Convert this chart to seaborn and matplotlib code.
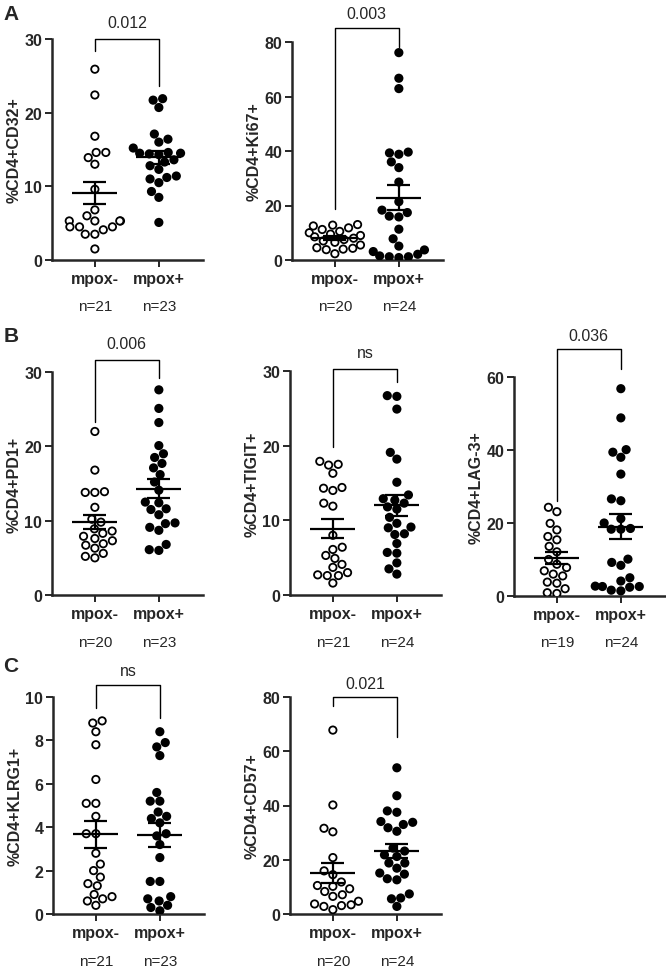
import numpy as np
import pandas as pd
import matplotlib.pyplot as plt
import seaborn as sns
from matplotlib.transforms import blended_transform_factory

groups = ["mpox-", "mpox+"]

# %CD4+ values
cd32_neg = [25.9, 22.4, 16.8, 14.6, 14.6, 13.9, 13.0, 9.6, 6.8, 6.0, 5.3, 5.3, 5.3, 5.3,
            4.5, 4.5, 4.5, 4.1, 3.5, 3.5, 1.5]
cd32_pos = [21.9, 21.7, 20.7, 17.1, 16.4, 16.0, 15.2, 14.6, 14.5, 14.5, 14.4, 14.3, 13.6,
            13.3, 12.8, 12.3, 11.4, 11.2, 11.0, 10.5, 9.3, 8.5, 5.1]
ki67_neg = [13.0, 12.8, 12.5, 11.8, 11.2, 10.5, 10.0, 9.5, 9.0, 8.5, 8.0, 7.5, 7.0, 6.5,
            5.5, 4.5, 4.3, 4.0, 3.8, 2.3]
ki67_pos = [76.1, 66.7, 62.9, 39.6, 39.3, 38.8, 36.0, 33.9, 28.6, 21.4, 18.3, 17.4, 16.1,
            15.8, 11.3, 7.8, 5.1, 3.7, 3.1, 2.1, 1.2, 1.2, 0.9, 1.5]
pd1_neg = [22.0, 16.8, 13.9, 13.8, 13.8, 11.8, 10.2, 9.8, 8.9, 8.6, 8.3, 7.9, 7.6, 7.3,
           6.9, 6.7, 6.3, 5.6, 5.2, 5.0]
pd1_pos = [27.6, 25.1, 23.2, 20.1, 19.0, 18.5, 17.7, 17.1, 16.2, 15.2, 14.1, 12.5, 12.4,
           11.6, 11.5, 10.8, 9.7, 9.6, 9.1, 8.7, 6.8, 6.1, 6.0]
tigit_neg = [17.9, 17.5, 17.4, 16.3, 14.4, 14.3, 14.0, 12.3, 11.9, 8.0, 6.4, 6.1, 5.3, 4.9,
             4.1, 3.7, 3.0, 2.7, 2.6, 2.6, 1.6]
tigit_pos = [26.7, 26.6, 24.9, 19.1, 18.2, 15.1, 13.4, 12.9, 12.7, 12.3, 11.8, 11.5, 10.4,
             9.6, 9.1, 9.0, 8.2, 8.1, 6.9, 5.7, 5.6, 4.3, 3.5, 2.8]
lag3_neg = [24.3, 23.1, 19.9, 18.1, 16.3, 15.4, 13.6, 12.1, 10.0, 8.7, 7.8, 6.9, 6.0, 5.5,
            3.8, 3.5, 2.0, 0.7, 0.9]
lag3_pos = [56.8, 48.8, 40.1, 39.4, 38.0, 33.4, 26.6, 26.1, 21.2, 20.0, 18.5, 18.3, 18.3,
            10.1, 9.2, 8.4, 5.0, 4.1, 2.7, 2.6, 2.6, 2.4, 1.6, 1.4]
klrg1_neg = [8.9, 8.8, 8.4, 7.8, 6.2, 5.1, 5.1, 4.5, 3.7, 3.7, 2.8, 2.3, 2.0, 1.7, 1.4, 1.3,
             0.9, 0.8, 0.7, 0.6, 0.4]
klrg1_pos = [8.4, 7.9, 7.7, 7.3, 5.6, 5.2, 5.2, 4.7, 4.5, 4.4, 4.2, 3.7, 3.6, 3.2, 2.6, 1.5,
             1.5, 0.8, 0.7, 0.6, 0.4, 0.3, 0.15]
cd57_neg = [67.8, 40.2, 31.6, 30.3, 20.8, 15.9, 14.5, 11.8, 10.5, 10.2, 9.3, 8.3, 7.1, 6.5,
            4.7, 3.7, 3.4, 3.1, 2.8, 1.6]
cd57_pos = [53.9, 43.6, 38.0, 37.5, 34.1, 33.8, 33.0, 31.8, 30.5, 24.3, 23.2, 21.8, 21.2,
            18.8, 18.8, 16.9, 15.1, 14.7, 13.0, 12.6, 7.4, 5.9, 5.6, 2.8]

p_values = ["0.012", "0.003", "0.006", "ns", "0.036", "ns", "0.021"]
y_labels = ["%CD4+CD32+", "%CD4+Ki67+", "%CD4+PD1+", "%CD4+TIGIT+", "%CD4+LAG-3+",
            "%CD4+KLRG1+", "%CD4+CD57+"]

sns.set_style("ticks")
plt.rcParams["font.family"] = ["Liberation Sans", "DejaVu Sans"]

W, H = 666, 970
fig = plt.figure(figsize=(W / 100, H / 100), dpi=100)


def panel(x0, y_top, y_bot, neg, pos, ylabel, yticks, pval, bracket, n_y):
    # x0 = pixel of the mpox- tick; axes spans 43 px left of it to 108 px right
    left = x0 - 43
    ax = fig.add_axes([left / W, 1 - y_bot / H, 151 / W, (y_bot - y_top) / H])
    df = pd.DataFrame({"group": ["mpox-"] * len(neg) + ["mpox+"] * len(pos),
                       "val": neg + pos})
    sns.swarmplot(data=df, x="group", y="val", hue="group", order=groups,
                  palette={"mpox-": "white", "mpox+": "black"}, edgecolor="black",
                  linewidth=1.3, size=5.3, legend=False, ax=ax, zorder=3)
    for i, vals in enumerate([neg, pos]):
        v = np.array(vals)
        m = v.mean()
        se = v.std(ddof=1) / np.sqrt(len(v))
        ax.hlines(m, i - 0.35, i + 0.35, color="black", lw=1.6, zorder=5)
        ax.hlines([m - se, m + se], i - 0.18, i + 0.18, color="black", lw=1.6, zorder=5)
        ax.vlines(i, m - se, m + se, color="black", lw=1.6, zorder=5)
    ax.set_xlim(-0.67, 1.69)
    ax.set_ylim(0, yticks[-1])
    ax.set_yticks(yticks)
    ax.set_xlabel("")
    ax.set_ylabel(ylabel, fontsize=11.5, fontweight="bold", labelpad=2)
    ax.tick_params(length=5, width=1.4, labelsize=11.5, pad=2)
    ax.tick_params(axis="x", pad=3)
    for lab in ax.get_xticklabels() + ax.get_yticklabels():
        lab.set_fontweight("bold")
    for s in ["left", "bottom"]:
        ax.spines[s].set_linewidth(1.8)
    sns.despine(ax=ax)
    l_end, top, r_end, txt_y = bracket
    ax.plot([0, 0, 1, 1], [l_end, top, top, r_end], color="black", lw=1,
            clip_on=False)
    ax.text(0.5, txt_y, pval, ha="center", va="center", fontsize=11.5)
    tr = blended_transform_factory(ax.transData, fig.transFigure)
    for i, vals in enumerate([neg, pos]):
        ax.text(i, 1 - n_y / H, f"n={len(vals)}", ha="center", va="center",
                fontsize=11, transform=tr)
    return ax


panel(95, 40, 261, cd32_neg, cd32_pos, y_labels[0], [0, 10, 20, 30], p_values[0],
      (28.4, 30.0, 23.6, 32.3), 307)
panel(335, 43, 261, ki67_neg, ki67_pos, y_labels[1], [0, 20, 40, 60, 80], p_values[1],
      (18.7, 85.1, 78.2, 90.3), 307)
panel(95, 373, 596, pd1_neg, pd1_pos, y_labels[2], [0, 10, 20, 30], p_values[2],
      (23.3, 31.6, 29.2, 33.8), 643)
panel(333, 372, 596, tigit_neg, tigit_pos, y_labels[3], [0, 10, 20, 30], p_values[3],
      (19.8, 30.3, 28.5, 32.5), 643)
panel(557, 378, 597, lag3_neg, lag3_pos, y_labels[4], [0, 20, 40, 60], p_values[4],
      (26.0, 67.7, 62.2, 71.5), 643)
panel(96, 698, 915, klrg1_neg, klrg1_pos, y_labels[5], [0, 2, 4, 6, 8, 10], p_values[5],
      (9.5, 10.55, 9.04, 11.2), 962)
panel(333, 698, 915, cd57_neg, cd57_pos, y_labels[6], [0, 20, 40, 60, 80], p_values[6],
      (76.7, 80.0, 65.3, 85.1), 962)

for letter, yp in [("A", 15), ("B", 336), ("C", 667)]:
    fig.text(11 / W, 1 - yp / H, letter, fontsize=15, fontweight="bold",
             ha="center", va="center")

fig.savefig("out.png", dpi=100)
